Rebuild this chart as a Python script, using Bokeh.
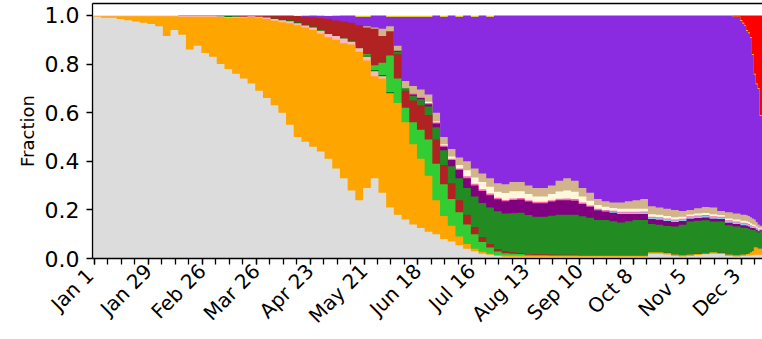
from datetime import datetime
import math
from bokeh.plotting import figure
from bokeh.models import (Range1d, FixedTicker, DatetimeTickFormatter, LinearAxis,
                          NumeralTickFormatter)
from bokeh.embed import file_html
from bokeh.resources import INLINE

# ---- bins: day offsets from 2021-01-01 (4-day bins, then daily) ----
bin_start_days = list(range(0, 336, 4)) + list(range(336, 347))
last_edge_day = 347.5

# ---- tick labels ----
major_tick_days = list(range(0, 337, 28))   # Jan 1, Jan 29, ... Dec 3
minor_tick_days = list(range(0, 347, 7))
y_ticks = [0.0, 0.2, 0.4, 0.6, 0.8, 1.0]

# ---- series fractions (bottom to top) ----
other = [.995,.99,.99,.985,.98,.975,.97,.965,.955,.915,.94,.92,.86,.875,.845,.83,.80,.78,.76,.74,
         .72,.69,.66,.63,.60,.55,.50,.48,.46,.44,.41,.37,.33,.28,.24,.29,.33,.27,.21,.18,.16,.14,
         .125,.11,.10,.08,.07,.055,.04,.03,.02,.015,.01] + [.007]*19 + \
        [.02,.02,.016,.01,.008,.01,.014,.017,.02,.018,.01,.008,.01,.01,.01,.012,.012,.012,.014,
         .015,.015,.015,.015]
alpha = [.002,.007,.007,.012,.017,.022,.027,.032,.042,.082,.057,.075,.135,.12,.15,.165,.193,.21,
         .23,.25,.273,.30,.325,.348,.372,.418,.46,.47,.48,.485,.50,.53,.555,.60,.61,.525,.42,.47,
         .47,.46,.40,.33,.285,.23,.14,.095,.065,.035,.02,.01,.008,.005,.004,.005,.005,.005] + \
        [.003]*16 + \
        [.005,.005,.006,.005,.004,.005,.004,.003,.005,.004,.005,.004,.005,.005,.005,.006,.008,
         .013,.016,.03,.03,.025,.025]
lightpink = [.003]*11 + [.004]*5 + \
        [.004,.003,.004,.005,.004,.005,.006,.007,.008,.008,.008,.008,.01,.012,.014,.015,.02,.012,
         .015,.015,.02,.01] + [0]*57
green = [0]*11 + [.001]*5 + \
        [.003,.007,.003,0,0,0,0,.002,.003,.004,.004,.004,.004,.004,.004,.004,.005,.005,.005,.005,
         .005,.005,.005] + [0]*56
limegreen = [0]*35 + \
        [.005,.02,.05,.15,.10,.06,.09,.12,.15,.15,.13,.11,.10,.08,.06,.04,.025,.015,.01,.008,.006,
         .005,.004,.004,.003,.003,.003,.003,.002,.002,.002,.002,.002,.002,.002,.002,.002] + [.001]*23
firebrick = [0]*18 + \
        [.003,.005,.003,.005,.009,.013,.017,.02,.026,.032,.038,.048,.058,.06,.065,.073,.09,.11,.15,
         .11,.10,.10,.07,.09,.10,.10,.10,.08,.065,.05,.04,.03,.02,.015,.01,.008,.006,.005,.004,
         .003,.003,.003,.002,.002,.002,.002,.001] + [.001]*30
forestgreen = [0]*39 + \
        [.01,.01,.02,.025,.035,.05,.06,.07,.09,.11,.125,.14,.15,.155,.155,.16,.165,.16,.155,.155,
         .16,.165,.165,.165,.16,.155,.145,.145,.14,.135,.14,.145,.145,.115,.112,.11,.115,.125,.135,
         .135,.135,.125,.128,.12,.118,.11,.11,.11,.105,.10,.092,.085,.07,.065,.065,.07]
purple = [0]*39 + \
        [.005,0,.005,.005,.01,.015,.015,.025,.035,.04,.045,.05,.05,.05,.05,.055,.055,.055,.055,
         .055,.058,.06,.06,.058,.05,.045,.04,.035,.035,.035,.03,.025,.025,.02,.02,.02,.018,.015,
         .012,.012,.012,.012,.01,.01,.01,.01,.01,.01,.01,.01,.008,.008,.007,.006,.005,.004]
skyblue = [0]*65 + [.002,.003,.004,.005,.005,.005,.006,.006,.007,.007] + [.006]*15 + \
        [.005,.005,.005,.004,.004]
hotpink = [0]*41 + [.005]*7 + [.008,.008,.007,.007,.006] + [.006]*8 + [.007,.007,.006,.005,.005] + \
        [.004]*24 + [.003]*4 + [.002]
cornsilk = [0]*43 + \
        [.005,.005,.005,.01,.015,.025,.025,.03,.028,.025,.028,.03,.028,.025,.022,.022,.025,.03,
         .033,.03,.025,.02,.015,.013,.012,.013,.013,.013,.012,.01,.01,.01,.01,.008,.007,.008,.008,
         .008,.007,.008,.008,.008,.008,.008,.008,.008,.008,.007,.007,.006,.006,.005]
tan = [0]*35 + \
        [.005,.005,.03,.02,.02,.03,.03,.03,.03,.035,.03,.03,.03,.037,.037,.035,.035,.035,.036,.038,
         .038,.035,.035,.035,.035,.044,.05,.045,.035,.032,.025,.022,.022,.025,.03,.035,.04,.033,.03,
         .03,.03,.023,.019,.022,.025,.028,.016,.025,.025,.025,.025,.025,.025,.025,.025,.025,.021,
         .018,.015,.008]
delta = [0]*27 + \
        [.005,.008,.01,.012,.02,.025,.03,.035,.04,.05,.055,.04,.12,.265,.285,.30,.32,.40,.495,.55,
         .58,.60,.625,.65,.665,.69,.695,.685,.685,.70,.71,.71,.70,.68,.67,.68,.71,.73,.755,.765,
         .77,.77,.765,.76,.755,.785,.79,.795,.80,.805,.80,.793,.788,.79,.805,.81,.808,.797,.787,
         .777,.759,.752,.737,.672,.597,.567,.557,.452]
yellow = [0]*26 + \
        [.002,.001,0,.001,.002,.001,0,0,.005,.005,0,0,.005,.005,.005,.005,.005,.005,0,.005,0,.005,
         0,.005,0,.005] + [0]*31 + [.002] + [.003]*11
omicron = [0]*83 + [.005,.02,.03,.04,.06,.07,.09,.16,.24,.28,.30,.41]

series = [other, alpha, lightpink, green, limegreen, firebrick, forestgreen, purple,
          skyblue, hotpink, cornsilk, tan, delta, yellow, omicron]
colors = ["#dcdcdc", "#ffa500", "#ffb6c1", "#008000", "#32cd32", "#b22222", "#228b22",
          "#800080", "#87ceeb", "#ff69b4", "#fff8dc", "#d2b48c", "#8a2be2", "#ffff00", "#ff0000"]

n = len(bin_start_days)
for s in series:
    assert len(s) == n, len(s)

# normalize each bin to a total of 1 and build cumulative tops
totals = [sum(s[i] for s in series) for i in range(n)]
cum = []
run = [0.0]*n
for s in series:
    run = [run[i] + s[i]/totals[i] for i in range(n)]
    cum.append(run)

EPOCH = datetime(1970, 1, 1)
BASE = (datetime(2021, 1, 1) - EPOCH).total_seconds()*1000.0
def ms(day):
    return BASE + day*86400000.0

edges = [d - 0.5 for d in bin_start_days] + [last_edge_day]
L = [ms(e) for e in edges[:-1]]
R = [ms(e) for e in edges[1:]]

p = figure(width=762, height=339, x_axis_type="datetime", output_backend="svg",
           toolbar_location=None,
           x_range=Range1d(ms(-1.04), ms(347.0)), y_range=Range1d(0, 1.049),
           min_border_left=92, min_border_right=0, min_border_top=3, min_border_bottom=78)
p.outline_line_color = None
p.grid.visible = False
p.background_fill_color = "white"

# painter's algorithm: draw from the top series down, each from 0 to its cumulative top
for k in range(len(series) - 1, -1, -1):
    s = series[k]
    top = cum[k]
    xs_all, ys_all = [], []
    i = 0
    while i < n:
        if s[i] <= 0:
            i += 1
            continue
        j = i
        while j < n and s[j] > 0:
            j += 1
        xs, ys = [], []
        for t in range(i, j):
            xs += [L[t], R[t]]
            ys += [top[t], top[t]]
        xs += [R[j-1], L[i]]
        ys += [0, 0]
        xs_all.append(xs)
        ys_all.append(ys)
        i = j
    if xs_all:
        p.patches(xs_all, ys_all, fill_color=colors[k], line_color=None)

FONT = "DejaVu Sans"
# x axis
xa = p.xaxis[0]
xa.ticker = FixedTicker(ticks=[ms(d) for d in major_tick_days],
                        minor_ticks=[ms(d) for d in minor_tick_days])
fmt = "%b %e"
xa.formatter = DatetimeTickFormatter(milliseconds=fmt, seconds=fmt, minsec=fmt, minutes=fmt,
                                     hourmin=fmt, hours=fmt, days=fmt, months=fmt, years=fmt)
xa.major_label_orientation = math.pi/4
xa.major_label_text_font = FONT
xa.major_label_text_font_size = "20px"
xa.major_label_text_color = "black"
xa.major_tick_out = 6
xa.major_tick_in = 0
xa.minor_tick_out = 6
xa.minor_tick_in = 0
xa.major_label_standoff = 3

# y axis
ya = p.yaxis[0]
ya.ticker = FixedTicker(ticks=y_ticks)
ya.formatter = NumeralTickFormatter(format="0.0")
ya.minor_tick_line_color = None
ya.major_tick_out = 6
ya.major_tick_in = 0
ya.major_label_text_font = FONT
ya.major_label_text_font_size = "22px"
ya.major_label_text_color = "black"
ya.major_label_standoff = 7
ya.axis_label = "Fraction"
ya.axis_label_text_font = FONT
ya.axis_label_text_font_size = "18px"
ya.axis_label_text_font_style = "normal"
ya.axis_label_text_color = "black"
ya.axis_label_standoff = 4

for ax in (xa, ya):
    ax.axis_line_width = 1.3
    ax.axis_line_color = "black"
    ax.major_tick_line_width = 1.3
    ax.minor_tick_line_width = 1.3
    ax.major_tick_line_color = "black"
    ax.minor_tick_line_color = "black" if ax is xa else None

# top spine
top_ax = LinearAxis(ticker=FixedTicker(ticks=[]), major_label_text_font_size="0px",
                    major_tick_line_color=None, minor_tick_line_color=None,
                    axis_line_width=1.3, axis_line_color="black", major_label_standoff=0)
p.add_layout(top_ax, "above")

open("out.html", "w").write(file_html(p, INLINE))
